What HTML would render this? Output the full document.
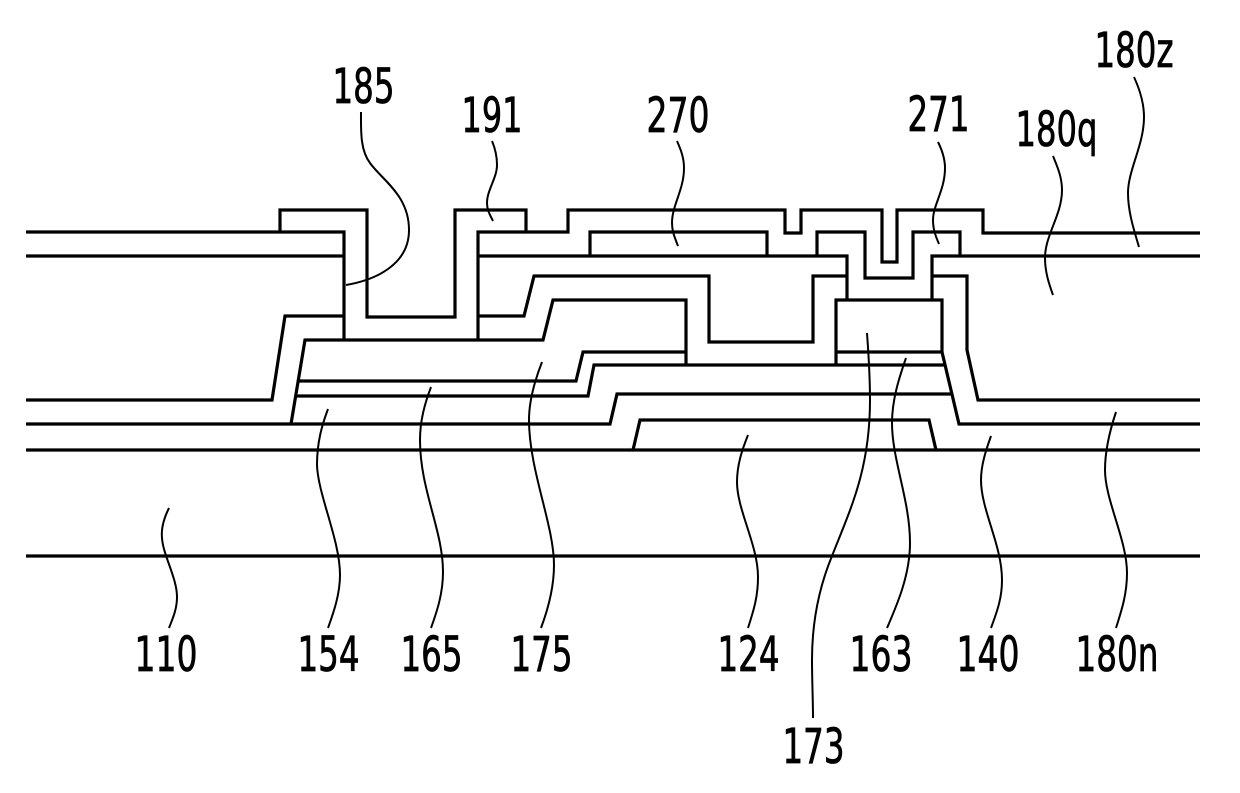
<!DOCTYPE html>
<html><head><meta charset="utf-8"><style>
html,body{margin:0;padding:0;background:#fff;width:1240px;height:793px;overflow:hidden}
svg{display:block}
text{font-family:"DejaVu Sans","Liberation Sans",sans-serif;font-size:48px;fill:#000;stroke:#000;stroke-width:.8}
</style></head><body>
<svg width="1240" height="793" viewBox="0 0 1240 793" xmlns="http://www.w3.org/2000/svg">
<g fill="none" stroke="#000" stroke-width="3.2" stroke-linejoin="miter">
<path d="M26,556H1200"/>
<path d="M26,450H1200"/>
<path d="M633,450L640,420H929L936,450"/>
<path d="M26,424H610L617,394H951"/>
<path d="M942,352L959,424H1200"/>
<path d="M291,424L305,340H543L553,300H686V365"/>
<path d="M297,396H588L594,365H945"/>
<path d="M299,381H576L583,352H686"/>
<path d="M836,365V300H942V352"/>
<path d="M836,352H942"/>
<path d="M26,232H344V340"/>
<path d="M26,256H344"/>
<path d="M26,400H272L285,316H344"/>
<path d="M280,232V210H367V317H455V210H526V232H568V210H785V233H801V210H882V262H897V210H983V233H1200"/>
<path d="M478,340V232H526"/>
<path d="M478,256H847V300"/>
<path d="M478,316H524L534,276H709V342H813V276H847"/>
<path d="M590,256V232H767V256"/>
<path d="M817,256V232H865V278H913V232H960V256"/>
<path d="M932,300V256H1200"/>
<path d="M932,276H967V350L978,400H1200"/>
</g>
<g fill="none" stroke="#000" stroke-width="2">
<path d="M361,112C361,130 360,150 370,163C382,180 409,195 409,230C409,265 375,280 346,285"/>
<path d="M492,141C495,148 497,155 497,165C497,178 487,190 487,203C487,210 490,215 493,221"/>
<path d="M677,141C681,150 684,158 684,168C684,190 672,205 672,223C672,232 675,238 678,246"/>
<path d="M938,142C942,150 945,158 945,168C945,190 933,205 933,220C933,230 936,237 939,244"/>
<path d="M1053,156C1058,168 1062,178 1062,190C1062,215 1045,235 1045,258C1045,272 1049,284 1053,295"/>
<path d="M1134,77C1140,90 1144,103 1144,117C1144,145 1128,170 1128,193C1128,212 1134,230 1139,247"/>
<path d="M169,508C164,518 161,528 162,538C163,555 177,578 177,597C177,610 172,620 169,628"/>
<path d="M328,409C322,425 317,442 317,465C318,495 340,540 340,575C340,595 333,614 328,628"/>
<path d="M431,387C425,403 420,420 420,440C420,490 443,530 443,572C443,595 436,614 431,628"/>
<path d="M542,362C535,380 529,400 529,420C529,470 554,525 554,565C554,590 547,612 541,628"/>
<path d="M748,435C742,450 737,465 737,482C737,510 758,545 758,577C758,598 753,612 748,628"/>
<path d="M867,333C869,360 870,380 870,400C870,470 850,510 832,556C820,585 812,620 812,660C812,680 813,700 813,718"/>
<path d="M906,358C899,378 892,400 892,423C892,460 910,500 910,543C910,575 897,605 887,628"/>
<path d="M991,436C986,450 981,465 981,480C981,510 1002,545 1002,580C1002,600 996,614 991,628"/>
<path d="M1116,412C1110,430 1105,450 1105,470C1105,500 1127,540 1127,573C1127,595 1121,612 1116,628"/>
</g>
<text x="332.5" y="103" textLength="62" lengthAdjust="spacingAndGlyphs">185</text>
<text x="461.5" y="132" textLength="61" lengthAdjust="spacingAndGlyphs">191</text>
<text x="646.5" y="132" textLength="63" lengthAdjust="spacingAndGlyphs">270</text>
<text x="907.5" y="131" textLength="62" lengthAdjust="spacingAndGlyphs">271</text>
<text x="1015.5" y="146" textLength="82" lengthAdjust="spacingAndGlyphs">180q</text>
<text x="1094.5" y="67" textLength="79" lengthAdjust="spacingAndGlyphs">180z</text>
<text x="134.5" y="671" textLength="63" lengthAdjust="spacingAndGlyphs">110</text>
<text x="297.5" y="671" textLength="62" lengthAdjust="spacingAndGlyphs">154</text>
<text x="400.5" y="671" textLength="62" lengthAdjust="spacingAndGlyphs">165</text>
<text x="510.5" y="671" textLength="62" lengthAdjust="spacingAndGlyphs">175</text>
<text x="717.5" y="671" textLength="62" lengthAdjust="spacingAndGlyphs">124</text>
<text x="849.5" y="671" textLength="63" lengthAdjust="spacingAndGlyphs">163</text>
<text x="956.5" y="671" textLength="63" lengthAdjust="spacingAndGlyphs">140</text>
<text x="1075.5" y="671" textLength="83" lengthAdjust="spacingAndGlyphs">180n</text>
<text x="782.5" y="763" textLength="62" lengthAdjust="spacingAndGlyphs">173</text>
</svg>
</body></html>
